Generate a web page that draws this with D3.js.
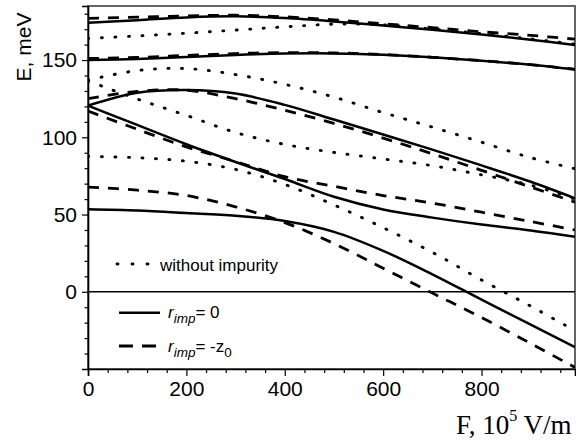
<!DOCTYPE html>
<html>
<head>
<meta charset="utf-8">
<script src="https://cdn.jsdelivr.net/npm/d3@7"></script>
<style>
  body { margin: 0; background: #fff; }
  svg { display: block; }
</style>
</head>
<body>
<svg id="chart"></svg>
<script>
// field values (10^5 V/m) shared by every curve
var fieldF = [0, 100, 200, 300, 400, 500, 600, 700, 800, 900, 990];

// r_imp = 0 (solid)
var solid1 = [174.2, 175.8, 177.6, 178.3, 177.2, 175, 172.3, 169.6, 166.6, 163.2, 159.8];
var solid2 = [150, 150.7, 152, 153.3, 154.2, 154.3, 153.5, 151.8, 149.6, 147, 144];
var solid3 = [120.5, 128.8, 130.6, 128.3, 121, 111.5, 101.8, 92, 81.8, 71.2, 60.5];
var solid4 = [120.5, 108, 95.5, 84, 73, 61.5, 53.3, 48, 43.5, 39.7, 35.6];
var solid5 = [53.4, 52.6, 51, 49.2, 45.8, 38.8, 26.5, 11.3, -5.1, -21.3, -35.8];

// r_imp = -z0 (dashed)
var dashed1 = [177, 177.8, 178.6, 179, 178, 176, 173.5, 171, 168.3, 166, 163.5];
var dashed2 = [151, 151.7, 153, 154.2, 154.8, 154.6, 153.6, 151.8, 149.6, 147, 144];
var dashed3 = [125, 129.7, 130.5, 125, 117.5, 109, 99.5, 89.3, 78.6, 67.8, 58];
var dashed4 = [117, 105.2, 93.8, 84.3, 74.5, 68.3, 62.3, 57.4, 51.5, 45.5, 40];
var dashed5 = [67.8, 65.8, 62.3, 55, 44.8, 31.2, 15.2, -0.8, -16.7, -33.5, -49];

// without impurity (dotted)
var dotted1 = [164, 165.6, 167.4, 169.4, 171.5, 173.2, 172.8, 170.1, 167.1, 163.7, 160.3];
var dotted2 = [137, 143.2, 144.5, 140.6, 134.3, 126, 116, 106.6, 96.8, 86.8, 79.6];
var dotted3 = [136.5, 124.8, 114.2, 103.1, 95.4, 90.2, 86, 81.6, 75.7, 69, 60];
var dotted4 = [87.6, 86.8, 84.5, 79.2, 69.5, 56.2, 41.5, 25.5, 7.6, -9.3, -25.3];

var xMajor = [0, 200, 400, 600, 800];
var yMajor = [0, 50, 100, 150];

var dims = {
    width: 576,
    height: 444,
    left: 88,
    right: 575,
    top: 6,
    bottom: 369
};

var svg = d3.select("#chart")
    .attr("width", dims.width)
    .attr("height", dims.height);

var xScale = d3.scaleLinear().domain([0, 990]).range([dims.left, dims.right]);
var yScale = d3.scaleLinear().domain([-50, 185]).range([dims.bottom, dims.top]);

svg.append("defs").append("clipPath").attr("id", "plot")
    .append("rect")
    .attr("x", dims.left).attr("y", dims.top)
    .attr("width", dims.right - dims.left).attr("height", dims.bottom - dims.top);

// frame
svg.append("rect")
    .attr("x", dims.left).attr("y", dims.top)
    .attr("width", dims.right - dims.left).attr("height", dims.bottom - dims.top)
    .attr("fill", "none")
    .attr("stroke", "#555")
    .attr("stroke-width", 1.8);

// zero line
svg.append("line")
    .attr("x1", dims.left).attr("x2", dims.right)
    .attr("y1", yScale(0)).attr("y2", yScale(0))
    .attr("stroke", "#000")
    .attr("stroke-width", 1.3);

var line = d3.line()
    .x((d, i) => xScale(fieldF[i]))
    .y(d => yScale(d))
    .curve(d3.curveCatmullRom.alpha(0.5));

var curves = svg.append("g").attr("clip-path", "url(#plot)");

function draw(series, dash, cap, w) {
    curves.selectAll(null)
        .data(series)
        .enter()
        .append("path")
        .attr("d", line)
        .attr("fill", "none")
        .attr("stroke", "#000")
        .attr("stroke-width", w)
        .attr("stroke-linecap", cap)
        .attr("stroke-dasharray", dash);
}

draw([dotted1, dotted2, dotted3, dotted4], "1,12.5", "round", 2.9);
draw([solid1, solid2, solid3, solid4, solid5], null, "butt", 2.5);
draw([dashed1, dashed2, dashed3, dashed4, dashed5], "11,9", "butt", 2.8);

// axes
var font = "'Liberation Sans', Arial, sans-serif";

svg.append("g")
    .attr("transform", `translate(0, ${dims.bottom})`)
    .call(d3.axisBottom(xScale).tickValues(xMajor).tickSize(7).tickPadding(5));
svg.append("g")
    .attr("transform", `translate(0, ${dims.bottom})`)
    .call(d3.axisBottom(xScale)
        .tickValues(d3.range(40, 990, 40).filter(v => v % 200 !== 0))
        .tickSize(4).tickFormat(""))
    .select(".domain").remove();

svg.append("g")
    .attr("transform", `translate(${dims.left}, 0)`)
    .call(d3.axisLeft(yScale).tickValues(yMajor).tickSize(6).tickPadding(5));
svg.append("g")
    .attr("transform", `translate(${dims.left}, 0)`)
    .call(d3.axisLeft(yScale)
        .tickValues(d3.range(-40, 185, 10).filter(v => v % 50 !== 0))
        .tickSize(3.5).tickFormat(""))
    .select(".domain").remove();

svg.selectAll(".domain").attr("stroke", "#000").attr("stroke-width", 1.6);
svg.selectAll(".tick line").attr("stroke", "#000").attr("stroke-width", 1.2);
svg.selectAll(".tick text")
    .attr("font-family", font)
    .attr("font-size", 21)
    .attr("fill", "#000");

// axis titles
svg.append("text")
    .attr("transform", "translate(31, 47) rotate(-90)")
    .attr("text-anchor", "middle")
    .attr("font-family", font)
    .attr("font-size", 21)
    .text("E, meV");

var xTitle = svg.append("text")
    .attr("x", 456).attr("y", 434)
    .attr("font-family", "'Liberation Serif', 'Times New Roman', serif")
    .attr("font-size", 27);
xTitle.append("tspan").text("F, 10");
xTitle.append("tspan").attr("dy", -13).attr("font-size", 16).text("5");
xTitle.append("tspan").attr("dy", 13).text(" V/m");

// legend
var legend = svg.append("g").attr("font-family", font);

legend.append("line")
    .attr("x1", 117).attr("x2", 148).attr("y1", 264).attr("y2", 264)
    .attr("stroke", "#000").attr("stroke-width", 2.9)
    .attr("stroke-linecap", "round").attr("stroke-dasharray", "1,14");
legend.append("text")
    .attr("x", 160).attr("y", 270.5)
    .attr("font-size", 17)
    .text("without impurity");

legend.append("line")
    .attr("x1", 119).attr("x2", 160).attr("y1", 312.7).attr("y2", 312.7)
    .attr("stroke", "#000").attr("stroke-width", 2.5);
var t1 = legend.append("text").attr("x", 168).attr("y", 318).attr("font-size", 17);
t1.append("tspan").attr("font-style", "italic").text("r");
t1.append("tspan").attr("font-style", "italic").attr("font-size", 13.5).attr("dy", 5).text("imp");
t1.append("tspan").attr("dy", -5).text("= 0");

legend.append("line")
    .attr("x1", 119).attr("x2", 156).attr("y1", 346).attr("y2", 346)
    .attr("stroke", "#000").attr("stroke-width", 2.8)
    .attr("stroke-dasharray", "14,9");
var t2 = legend.append("text").attr("x", 168).attr("y", 351.5).attr("font-size", 17);
t2.append("tspan").attr("font-style", "italic").text("r");
t2.append("tspan").attr("font-style", "italic").attr("font-size", 13.5).attr("dy", 5).text("imp");
t2.append("tspan").attr("dy", -5).text("= -z");
t2.append("tspan").attr("font-size", 13.5).attr("dy", 5).text("0");
</script>
</body>
</html>
